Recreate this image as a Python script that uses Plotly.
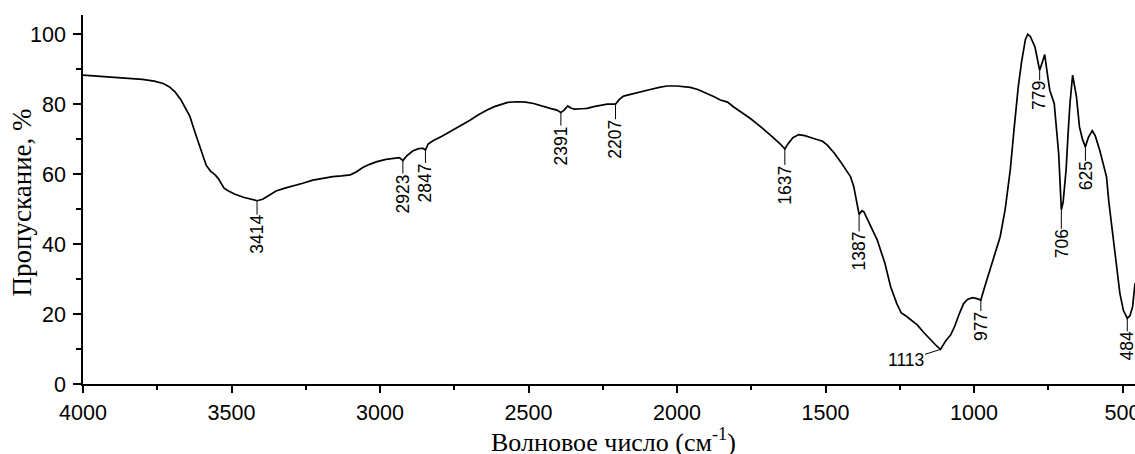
import numpy as np
import plotly.graph_objects as go

# Wavenumber (cm-1) and transmittance (%)
wavenumber = [
    4000, 3950, 3900, 3850, 3800, 3760, 3730, 3710, 3690, 3670, 3655, 3640, 3625, 3610,
    3597, 3585, 3570, 3555, 3545, 3535, 3525, 3510, 3490, 3460, 3435, 3414, 3395, 3380,
    3365, 3350, 3320, 3290, 3260, 3226, 3190, 3159, 3130, 3100, 3080, 3058, 3035, 3013,
    2980, 2950, 2935, 2923, 2910, 2890, 2870, 2855, 2847, 2838, 2820, 2790, 2764, 2730,
    2697, 2670, 2641, 2615, 2596, 2570, 2539, 2510, 2483, 2455, 2427, 2405, 2391, 2380,
    2368, 2358, 2345, 2320, 2303, 2280, 2259, 2235, 2207, 2195, 2180, 2150, 2124, 2090,
    2060, 2034, 2000, 1970, 1955, 1930, 1899, 1875, 1854, 1830, 1809, 1780, 1753, 1725,
    1697, 1675, 1652, 1637, 1625, 1610, 1590, 1570, 1540, 1510, 1494, 1470, 1449, 1430,
    1416, 1405, 1398, 1387, 1378, 1371, 1350, 1326, 1300, 1281, 1260, 1245, 1230, 1215,
    1200, 1191, 1170, 1146, 1125, 1113, 1095, 1079, 1065, 1050, 1035, 1022, 1005, 990,
    977, 965, 950, 930, 912, 895, 878, 865, 851, 840, 834, 827, 819, 810,
    795, 785, 779, 770, 762, 752, 745, 730, 720, 715, 710, 706, 700, 690,
    683, 677, 668, 660, 655, 645, 635, 625, 615, 602, 592, 577, 554, 546,
    532, 520, 509, 497, 484, 475, 466, 458,
]
transmittance = [
    88.3, 88.0, 87.6, 87.4, 87.1, 86.6, 85.9, 85.0, 83.5, 81.2, 79.0, 76.5, 72.5, 68.5,
    65.0, 62.5, 60.8, 59.8, 58.8, 57.3, 56.0, 55.2, 54.3, 53.4, 52.8, 52.4, 52.8, 53.6,
    54.6, 55.2, 56.0, 56.6, 57.4, 58.3, 58.9, 59.3, 59.5, 59.8, 60.6, 61.9, 62.8, 63.5,
    64.2, 64.6, 64.7, 63.9, 65.2, 66.6, 67.3, 67.4, 66.9, 68.6, 69.6, 70.9, 72.1, 73.8,
    75.4, 76.9, 78.3, 79.3, 79.9, 80.5, 80.7, 80.6, 80.2, 79.4, 78.8, 78.3, 77.6, 78.3,
    79.5, 78.9, 78.6, 78.7, 78.8, 79.3, 79.7, 80.0, 80.0, 81.3, 82.3, 83.0, 83.5, 84.2,
    84.8, 85.2, 85.2, 85.0, 84.8, 84.2, 83.1, 82.1, 81.2, 80.6, 79.2, 77.6, 75.9, 74.0,
    72.1, 70.4, 68.6, 67.2, 68.8, 70.4, 71.3, 71.0, 70.2, 69.4, 68.3, 66.0, 63.5, 61.0,
    59.3, 56.5, 53.5, 48.5, 49.5, 49.3, 45.5, 41.2, 34.5, 27.9, 23.0, 20.3, 19.5, 18.5,
    17.3, 16.9, 14.8, 12.6, 10.8, 9.9, 12.4, 14.0, 16.5, 20.0, 23.0, 24.2, 24.7, 24.4,
    24.0, 27.5, 31.5, 37.0, 42.1, 50.0, 61.2, 73.0, 85.0, 92.0, 95.4, 98.5, 100.0, 99.3,
    96.4, 92.0, 89.7, 92.0, 94.2, 88.0, 84.0, 80.2, 72.0, 65.9, 57.0, 49.8, 52.0, 61.2,
    72.0, 80.2, 88.3, 84.0, 82.1, 73.5, 70.0, 67.8, 70.5, 72.4, 71.0, 66.9, 59.3, 52.0,
    42.1, 34.0, 26.0, 21.0, 18.8, 19.5, 22.1, 28.8,
]

# Labelled bands and the pixel offset of their labels (label offsets are styling)
band_labels = [3414, 2923, 2847, 2391, 2207, 1637, 1387, 1113, 977, 779, 706, 625, 484]
label_dx = [0, 0, 0, 0, 0, 0, 0, -34, 0, 0, 0, 0, 0]
label_dy = [34, 33, 33, 33, 35, 36, 37, 11, 26, 25, 34, 29, 28]
label_angle = [-90, -90, -90, -90, -90, -90, -90, 0, -90, -90, -90, -90, -90]

x_ticks = [4000, 3500, 3000, 2500, 2000, 1500, 1000, 500]
y_ticks = [0, 20, 40, 60, 80, 100]
x_title = "Волновое число (см<sup>-1</sup>)"
y_title = "Пропускание, %"

SANS = "Liberation Sans, Arial, sans-serif"
SERIF = "Liberation Serif, Times New Roman, serif"

fig = go.Figure()
fig.add_trace(go.Scatter(
    x=wavenumber, y=transmittance, mode="lines",
    line=dict(color="black", width=1.7), hoverinfo="skip", showlegend=False,
))

wn_sorted = np.array(wavenumber[::-1], dtype=float)
tr_sorted = np.array(transmittance[::-1], dtype=float)
for lab, dx, dy, ang in zip(band_labels, label_dx, label_dy, label_angle):
    yv = float(np.interp(lab, wn_sorted, tr_sorted))
    fig.add_annotation(
        x=lab, y=yv, text=str(lab), textangle=ang,
        showarrow=True, arrowhead=0, arrowwidth=1, arrowcolor="black",
        ax=dx, ay=dy, standoff=0, borderpad=0,
        font=dict(family=SANS, size=17.5, color="black"),
    )

# Axis titles as annotations for precise placement
fig.add_annotation(
    xref="paper", yref="paper", x=0.504, y=0, yshift=-56,
    xanchor="center", yanchor="middle", showarrow=False,
    text=x_title, font=dict(family=SERIF, size=26, color="black"),
)
fig.add_annotation(
    xref="paper", yref="paper", x=-0.058, y=0.492,
    xanchor="center", yanchor="middle", showarrow=False, textangle=-90,
    text=y_title, font=dict(family=SERIF, size=27, color="black"),
)

axis_common = dict(
    showline=True, linecolor="black", linewidth=1.6,
    ticks="outside", tickwidth=1.6, tickcolor="black",
    showgrid=False, zeroline=False, mirror=False,
    tickfont=dict(family=SANS, size=21.5, color="black"),
    ticklabeloverflow="allow",
)

fig.update_xaxes(
    range=[4000, 458], tickvals=x_ticks, ticktext=[str(v) for v in x_ticks],
    ticklen=7, ticklabelstandoff=1,
    minor=dict(ticks="outside", ticklen=4, tickwidth=1.6, tickcolor="black",
               tickvals=[3750, 3250, 2750, 2250, 1750, 1250, 750], showgrid=False),
    **axis_common,
)
fig.update_yaxes(
    range=[0, 105.5], tickvals=y_ticks, ticktext=[str(v) for v in y_ticks],
    ticklen=8, ticklabelstandoff=3,
    minor=dict(ticks="outside", ticklen=5, tickwidth=1.6, tickcolor="black",
               tickvals=[10, 30, 50, 70, 90], showgrid=False),
    **axis_common,
)

fig.update_layout(
    width=1135, height=454,
    margin=dict(l=83, r=0, t=15, b=70, autoexpand=False),
    plot_bgcolor="white", paper_bgcolor="white",
    showlegend=False,
)

fig.write_html("out.html", config={"displayModeBar": False},
               post_script="document.body.style.margin='0';")
